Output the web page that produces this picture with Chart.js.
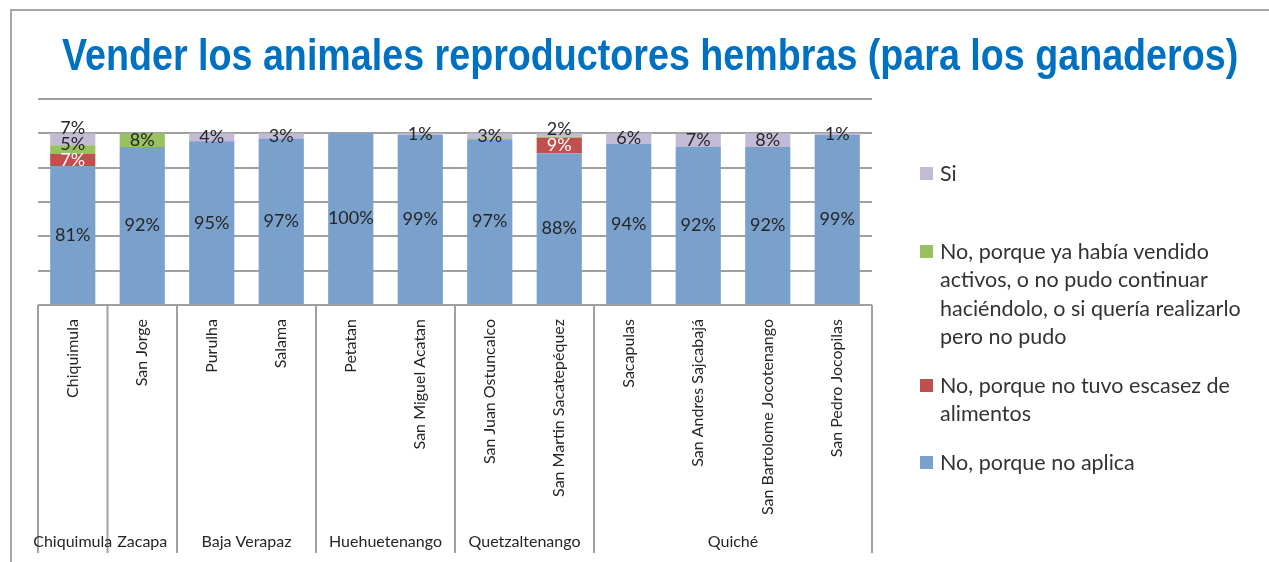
<!DOCTYPE html>
<html>
<head>
<meta charset="utf-8">
<script src="https://cdn.jsdelivr.net/npm/chart.js@4/dist/chart.umd.min.js"></script>
<style>
  html, body { margin: 0; padding: 0; background: #fff; }
  #wrap { position: relative; width: 1269px; height: 562px; overflow: hidden; }
  #frame { position: absolute; left: 10px; top: 9px; width: 1400px; height: 700px;
           border-left: 2px solid #a6a6a6; border-top: 2px solid #a6a6a6; }
  #title { position: absolute; left: 62px; top: 33px; white-space: nowrap;
           font: bold 44px "Liberation Sans", Arial, sans-serif; line-height: 44px;
           color: #0070c0; transform-origin: left top; }
  #chart { position: absolute; left: 0; top: 0; }
  #legend { position: absolute; left: 918px; top: 159px; width: 345px;
            font: 21.5px Lato, sans-serif; color: #333; line-height: 28.5px; }
  .item { display: flex; align-items: flex-start; margin-bottom: 20px; }
  .box { width: 13px; height: 13px; flex: none; margin: 8px 7px 0 2px; }
  .txt { width: 312px; }
</style>
</head>
<body>
<div id="wrap">
  <div id="frame"></div>
  <canvas id="chart" width="1269" height="562"></canvas>
  <div id="title">Vender los animales reproductores hembras (para los ganaderos)</div>
  <div id="legend"></div>
</div>
<script>
// categories and groups (departamento)
const categories = ['Chiquimula', 'San Jorge', 'Purulha', 'Salama', 'Petatan', 'San Miguel Acatan',
  'San Juan Ostuncalco', 'San Martin Sacatepéquez', 'Sacapulas', 'San Andres Sajcabajá',
  'San Bartolome Jocotenango', 'San Pedro Jocopilas'];
const groupNames = ['Chiquimula', 'Zacapa', 'Baja Verapaz', 'Huehuetenango', 'Quetzaltenango', 'Quiché'];
const groupSizes = [1, 1, 2, 2, 2, 4];

// series values (%)
const noAplica  = [81, 92, 95, 97, 100, 99, 96.6, 88.4, 94, 92.4, 92, 99];
const noEscasez = [7, 0, 0, 0, 0, 0, 0, 9.1, 0, 0, 0, 0];
const yaVendido = [5, 8, 0.6, 0, 0, 0, 0.5, 0.5, 0, 0, 0, 0];
const si        = [7, 0, 4.4, 3, 0, 1, 2.9, 2, 6, 7.4, 8, 1];

const yTicks = [0, 20, 40, 60, 80, 100, 120];

const labelFont = 'Lato, "Open Sans", sans-serif';

// draws the percentage inside each segment, nudging up labels that would overlap
const segmentLabels = {
  id: 'segmentLabels',
  afterDatasetsDraw(chart) {
    const ctx = chart.ctx;
    ctx.save();
    ctx.font = '18px ' + labelFont;
    ctx.textAlign = 'center';
    ctx.textBaseline = 'middle';
    const lastY = {};
    chart.data.datasets.forEach((ds, i) => {
      const meta = chart.getDatasetMeta(i);
      meta.data.forEach((bar, j) => {
        const v = ds.data[j];
        if (v < 1) return;
        let y = (bar.y + bar.base) / 2;
        if (lastY[j] !== undefined) y = Math.min(y, lastY[j] - 16);
        lastY[j] = y;
        ctx.fillStyle = ds.labelColor || '#262626';
        ctx.fillText(Math.round(v) + '%', bar.x, y);
      });
    });
    ctx.restore();
  }
};

// group separators and departamento names under the axis
const groupAxis = {
  id: 'groupAxis',
  afterDraw(chart) {
    const ctx = chart.ctx;
    const x = chart.scales.x;
    const area = chart.chartArea;
    const bottom = 553;
    const edge = (k) => {
      if (k <= 0) return area.left;
      if (k >= categories.length) return area.right;
      return (x.getPixelForValue(k - 1) + x.getPixelForValue(k)) / 2;
    };
    ctx.save();
    ctx.strokeStyle = '#a0a0a0';
    ctx.lineWidth = 2;
    ctx.font = '16px ' + labelFont;
    ctx.fillStyle = '#262626';
    ctx.textAlign = 'center';
    ctx.textBaseline = 'middle';
    let start = 0;
    const drawLine = (px) => {
      ctx.beginPath();
      ctx.moveTo(px, area.bottom);
      ctx.lineTo(px, bottom);
      ctx.stroke();
    };
    drawLine(edge(0));
    groupSizes.forEach((n, g) => {
      const a = edge(start), b = edge(start + n);
      drawLine(b);
      ctx.fillText(groupNames[g], (a + b) / 2, 542);
      start += n;
    });
    ctx.restore();
  }
};

const datasets = [
  { label: 'No, porque no aplica', data: noAplica, backgroundColor: '#7aa0cc' },
  { label: 'No, porque no tuvo escasez de alimentos', data: noEscasez, backgroundColor: '#c0504d', labelColor: '#ffffff' },
  { label: 'No, porque ya había vendido activos, o no pudo continuar haciéndolo, o si quería realizarlo pero no pudo', data: yaVendido, backgroundColor: '#98c160' },
  { label: 'Si', data: si, backgroundColor: '#c3bad6' }
];

const chart = new Chart(document.getElementById('chart'), {
  type: 'bar',
  data: { labels: categories, datasets: datasets },
  options: {
    responsive: false,
    animation: false,
    layout: { padding: { left: 38, right: 397, top: 99, bottom: 0 } },
    datasets: { bar: { categoryPercentage: 1, barPercentage: 0.65 } },
    plugins: {
      legend: { display: false },
      title: { display: false },
      tooltip: { mode: 'index' }
    },
    scales: {
      x: {
        stacked: true,
        grid: { display: false },
        border: { display: false },
        ticks: {
          autoSkip: false, minRotation: 90, maxRotation: 90, padding: 6,
          color: '#262626', font: { family: labelFont, size: 16 }
        },
        afterFit(scale) { scale.height = 257; }
      },
      y: {
        stacked: true,
        min: 0, max: 120,
        afterBuildTicks(scale) { scale.ticks = yTicks.map(v => ({ value: v })); },
        ticks: { display: false },
        grid: { color: '#a0a0a0', lineWidth: 2, drawTicks: false },
        border: { display: false },
        afterFit(scale) { scale.width = 0; }
      }
    }
  },
  plugins: [segmentLabels, groupAxis]
});

// html legend, top series first
const legend = document.getElementById('legend');
datasets.slice().reverse().forEach((ds, i) => {
  const item = document.createElement('div');
  item.className = 'item';
  if (i === 0) item.style.marginBottom = '49px';
  item.innerHTML = '<div class="box" style="background:' + ds.backgroundColor + '"></div><div class="txt">' + ds.label + '</div>';
  legend.appendChild(item);
});

// squeeze title to the reference width
const title = document.getElementById('title');
title.style.transform = 'scaleX(' + (1176 / title.offsetWidth) + ')';
</script>
</body>
</html>
